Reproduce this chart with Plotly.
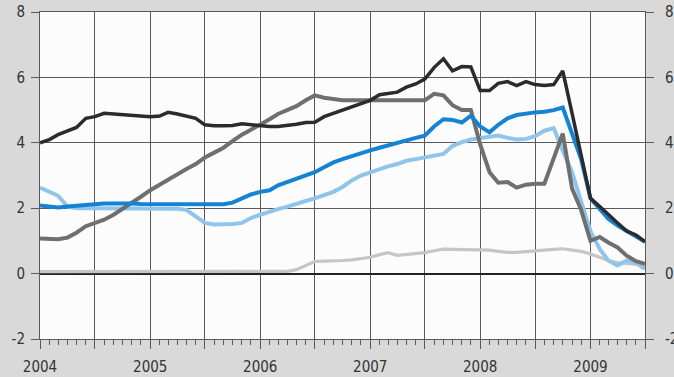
import pandas as pd
import plotly.graph_objects as go

months = pd.date_range("2004-01-01", periods=67, freq="MS")

black = [4.0, 4.1, 4.25, 4.35, 4.47, 4.75, 4.8, 4.9, 4.88, 4.85, 4.82, 4.8,
         4.8, 4.82, 4.93, 4.88, 4.82, 4.75, 4.55, 4.52, 4.52, 4.53, 4.58, 4.55,
         4.52, 4.5, 4.5, 4.53, 4.57, 4.62, 4.63, 4.8, 4.9, 5.0, 5.1, 5.2,
         5.3, 5.47, 5.5, 5.55, 5.7, 5.8, 5.95, 6.3, 6.57, 6.2, 6.33, 6.32,
         5.6, 5.6, 5.82, 5.87, 5.75, 5.87, 5.78, 5.75, 5.78, 6.2, 4.9, 3.67,
         2.3, 2.05, 1.8, 1.55, 1.3, 1.18, 0.98]

blue = [2.08, 2.05, 2.02, 2.05, 2.08, 2.1, 2.12, 2.14, 2.15, 2.14, 2.14, 2.13,
        2.13, 2.12, 2.12, 2.11, 2.1, 2.1, 2.1, 2.1, 2.12, 2.17, 2.3, 2.42,
        2.5, 2.55, 2.7, 2.8, 2.9, 3.0, 3.1, 3.25, 3.4, 3.5, 3.6, 3.7,
        3.77, 3.85, 3.92, 4.0, 4.1, 4.15, 4.22, 4.5, 4.72, 4.7, 4.62, 4.83,
        4.5, 4.32, 4.55, 4.75, 4.85, 4.9, 4.93, 4.95, 5.0, 5.08, 4.3, 3.5,
        2.3, 1.95, 1.68, 1.47, 1.3, 1.15, 0.97]

light_blue = [2.63, 2.5, 2.38, 2.05, 2.0, 2.0, 2.0, 2.0, 2.0, 2.0, 2.0, 2.0,
              2.0, 2.0, 1.99, 1.98, 1.95, 1.75, 1.55, 1.5, 1.5, 1.52, 1.55, 1.7,
              1.8, 1.9, 1.97, 2.05, 2.12, 2.22, 2.3, 2.4, 2.5, 2.65, 2.85, 3.0,
              3.1, 3.22, 3.28, 3.35, 3.45, 3.5, 3.55, 3.62, 3.66, 3.9, 4.02, 4.1,
              4.15, 4.2, 4.22, 4.15, 4.1, 4.12, 4.2, 4.37, 4.45, 3.76, 3.1, 2.2,
              1.3, 0.75, 0.4, 0.25, 0.4, 0.33, 0.15]

gray = [1.07, 1.05, 1.05, 1.1, 1.25, 1.45, 1.55, 1.65, 1.8, 1.97, 2.15, 2.35,
        2.55, 2.72, 2.9, 3.05, 3.2, 3.35, 3.55, 3.7, 3.85, 4.05, 4.25, 4.4,
        4.55, 4.72, 4.88, 5.0, 5.12, 5.3, 5.45, 5.38, 5.33, 5.3, 5.3, 5.3,
        5.3, 5.3, 5.28, 5.28, 5.28, 5.28, 5.3, 5.5, 5.45, 5.15, 5.0, 5.0,
        3.95, 3.1, 2.78, 2.8, 2.63, 2.72, 2.75, 2.75, 3.5, 4.28, 2.6, 1.95,
        1.0, 1.12, 0.95, 0.8, 0.55, 0.38, 0.3]

light_gray = [0.06] * 27 + [0.07, 0.12, 0.25, 0.37, 0.38, 0.38, 0.4, 0.42, 0.47,
              0.5, 0.58, 0.64, 0.56, 0.58, 0.6, 0.64, 0.7, 0.75, 0.74, 0.73, 0.73,
              0.73, 0.72, 0.68, 0.65, 0.65, 0.68, 0.7, 0.72, 0.74, 0.76, 0.72, 0.68,
              0.6, 0.5, 0.4, 0.34, 0.3, 0.28, 0.28]

tick_dates = pd.date_range("2004-01-01", "2009-07-01", freq="6MS")
tick_text = [str(d.year) if d.month == 1 else "" for d in tick_dates]
y_ticks = [-2, 0, 2, 4, 6, 8]
y_text = ["-2", "0", "2", "4", "6", "8"]

series = [
    (light_gray, "#c6c6c6", 3.2),
    (light_blue, "#8fc5ea", 4),
    (gray, "#6f6f6f", 4),
    (blue, "#1483d4", 4),
    (black, "#2b2b29", 3.5),
]

fig = go.Figure()
for vals, col, w in series:
    fig.add_trace(go.Scatter(x=months, y=vals, mode="lines",
                             line=dict(color=col, width=w), showlegend=False))
fig.add_trace(go.Scatter(x=[months[0]], y=[0], yaxis="y2", mode="lines",
                         line=dict(width=0), showlegend=False, hoverinfo="skip"))

font = dict(family="DejaVu Sans Condensed, Liberation Sans Narrow, sans-serif",
            size=15, color="#333333")
gridc = "#5a5a5a"

fig.update_layout(
    width=674, height=377,
    margin=dict(l=40, r=29, t=12, b=38),
    paper_bgcolor="#d9d9d9",
    plot_bgcolor="#fcfcfc",
    font=font,
    xaxis=dict(
        range=[months[0], months[-1]],
        tickvals=tick_dates, ticktext=tick_text,
        showgrid=True, gridcolor=gridc, gridwidth=1,
        ticks="outside", ticklen=9, tickcolor=gridc, tickwidth=1,
        minor=dict(dtick="M1", ticks="outside", ticklen=5, tickcolor=gridc,
                   showgrid=False),
        showline=True, linecolor=gridc, linewidth=1, mirror=True,
        zeroline=False, tickfont=font, automargin=False,
        ticklabelstandoff=5,
    ),
    yaxis=dict(
        range=[-2, 8], tickvals=y_ticks, ticktext=y_text,
        showgrid=True, gridcolor=gridc, gridwidth=1,
        ticks="outside", ticklen=8, tickcolor=gridc,
        zeroline=True, zerolinecolor="#222222", zerolinewidth=2,
        showline=True, linecolor=gridc, mirror=True, tickfont=font,
        automargin=False, ticklabelstandoff=3,
    ),
    yaxis2=dict(
        range=[-2, 8], tickvals=y_ticks, ticktext=y_text,
        overlaying="y", side="right",
        showgrid=False, zeroline=False,
        ticks="outside", ticklen=8, tickcolor=gridc, tickfont=font,
        automargin=False, ticklabelstandoff=8,
    ),
)

fig.write_html(
    "out.html",
    config={"displayModeBar": False},
    post_script="document.body.style.margin='0';"
                "document.body.style.background='#d9d9d9';",
)
